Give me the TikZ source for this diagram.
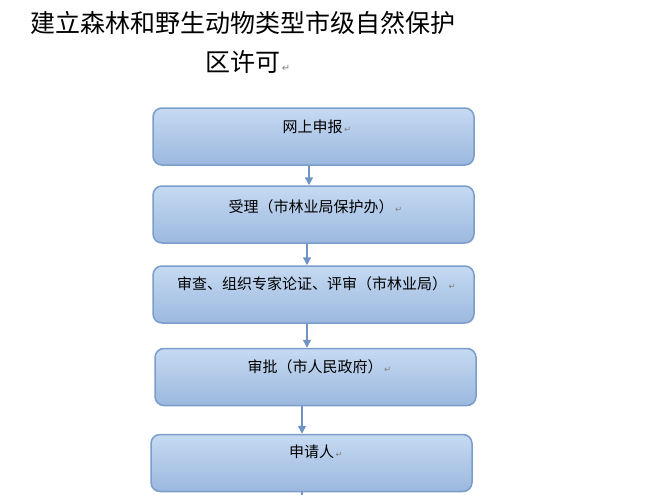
\documentclass[tikz,border=0pt]{standalone}
\usepackage{fontspec}
\setmainfont{Noto Sans CJK SC}
\newfontfamily\markfont{DejaVu Sans}
\usetikzlibrary{arrows.meta}
\definecolor{boxtop}{HTML}{C6DAF2}
\definecolor{boxbot}{HTML}{9BB8DE}
\definecolor{boxline}{HTML}{7B9DC9}
\definecolor{flowline}{HTML}{6F93C3}
\newcommand{\parmark}[1]{\rlap{\kern1.5pt{\markfont\fontsize{#1}{#1}\selectfont\color{gray}↵}}}
\begin{document}
\begin{tikzpicture}[x=1pt,y=-1pt]

    \tikzset{
      stepbox/.style={
        draw=boxline,
        line width=1.5pt,
        rounded corners=9pt,
        top color=boxtop,
        bottom color=boxbot,
        minimum width=321pt,
        minimum height=57pt,
        inner sep=0pt,
      },
      steptext/.style={
        font=\fontsize{15}{18}\selectfont,
        inner sep=0pt,
      },
      flow/.style={
        draw=flowline,
        line width=1.5pt,
        -{Triangle[width=8pt,length=8pt]},
      },
    }
    \useasboundingbox (0,0) rectangle (645,495);
    \node[font=\fontsize{25}{39}\selectfont, align=center, inner sep=0pt] (title) at (243,42.5) {建立森林和野生动物类型市级自然保护\\区许可\parmark{10}};

    \node[stepbox] (apply) at (313.5,136.5) {};
    \node[steptext] (apply text) at (312.5,127) {网上申报\parmark{8.5}};
    \node[stepbox] (accept) at (313.5,214.5) {};
    \node[steptext] (accept text) at (311,207) {受理（市林业局保护办）\parmark{8.5}};
    \node[stepbox] (review) at (313.5,294.5) {};
    \node[steptext] (review text) at (312,284) {审查、组织专家论证、评审（市林业局）\parmark{8.5}};
    \node[stepbox] (approve) at (315.5,377) {};
    \node[steptext] (approve text) at (315,367) {审批（市人民政府）\parmark{8.5}};
    \node[stepbox] (applicant) at (311.5,463) {};
    \node[steptext] (applicant text) at (311.5,452) {申请人\parmark{8.5}};
    \coordinate (out) at (302,496);

	\draw[flow] ([xshift=-4.5pt]apply.south) -- ([xshift=-4.5pt]apply.south |- accept.north);
	\draw[flow] ([xshift=-6.5pt]accept.south) -- ([xshift=-6.5pt]accept.south |- review.north);
	\draw[flow] ([xshift=-6.5pt]review.south) -- ([xshift=-6.5pt]review.south |- approve.north);
	\draw[flow] ([xshift=-13.5pt]approve.south) -- ([xshift=-13.5pt]approve.south |- applicant.north);
	\draw[draw=flowline, line width=1.5pt] (applicant.south -| out) -- (out);

\end{tikzpicture}
\end{document}
